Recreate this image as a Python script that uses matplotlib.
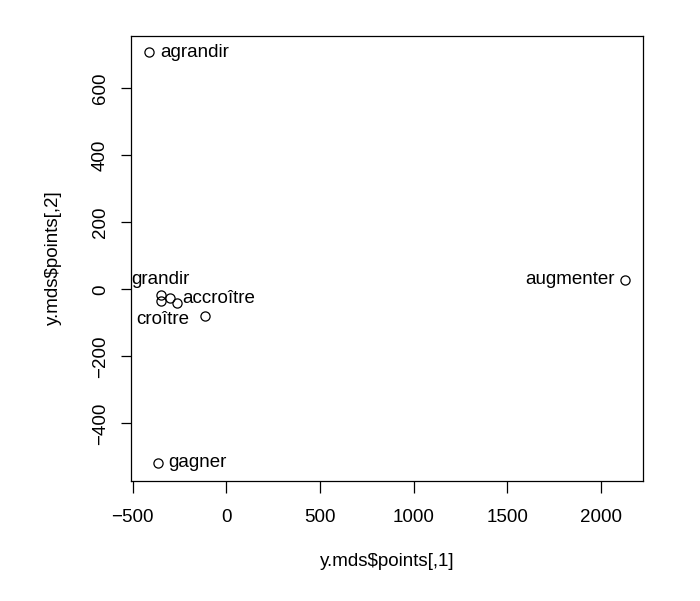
import matplotlib
matplotlib.use("Agg")
import matplotlib.pyplot as plt

plt.rcParams['font.family'] = ['Liberation Sans', 'DejaVu Sans']

x_vals = [-411, 2130, -365, -350, -350, -301, -261, -114]
y_vals = [707, 28, -518, -17, -35, -26, -41, -81]
labels = ["agrandir", "augmenter", "gagner", "grandir", "", "accroître", "", "croître"]
label_pos = ["right", "left", "right", "above", "", "right", "", "left"]

x_ticks = [-500, 0, 500, 1000, 1500, 2000]
y_ticks = [-400, -200, 0, 200, 400, 600]

W, H = 700, 601
fig = plt.figure(figsize=(W/100, H/100), dpi=100)
L, R, T, B = 130.5, 643.3, 35.7, 480.5
ax = fig.add_axes([L/W, 1-B/H, (R-L)/W, (B-T)/H])
ax.plot(x_vals, y_vals, 'o', mfc='none', mec='black', ms=6.6, mew=0.9)

fs = 13.5
for xv, yv, lab, pos in zip(x_vals, y_vals, labels, label_pos):
    if not lab:
        continue
    if pos == "right":
        off = 7.5 if lab != "accroître" else 8.5
        ax.annotate(lab, (xv, yv), xytext=(off, 0), textcoords='offset points',
                    ha='left', va='center', fontsize=fs)
    elif pos == "left":
        off = -7.5 if lab != "croître" else -11.0
        dy = 0 if lab != "croître" else -2.0
        ax.annotate(lab, (xv, yv), xytext=(off, dy), textcoords='offset points',
                    ha='right', va='center', fontsize=fs)
    elif pos == "above":
        ax.annotate(lab, (xv, yv), xytext=(0, 11.5), textcoords='offset points',
                    ha='center', va='center', fontsize=fs)

ax.set_xlim(-511.8, 2227.6)
ax.set_ylim(-570.7, 757)
ax.set_xticks(x_ticks)
ax.set_yticks(y_ticks)
ax.set_xticklabels([str(v).replace('-', '\u2212') for v in x_ticks], fontsize=fs)
ax.set_yticklabels([str(v).replace('-', '\u2212') for v in y_ticks], fontsize=fs,
                   rotation=90, va='center')
ax.tick_params(axis='x', direction='out', length=8.3, width=0.9, pad=12)
ax.tick_params(axis='y', direction='out', length=7.5, width=0.9, pad=8)
for s in ax.spines.values():
    s.set_linewidth(0.9)
ax.set_xlabel("y.mds$points[,1]", fontsize=fs)
ax.set_ylabel("y.mds$points[,2]", fontsize=fs)
ax.xaxis.set_label_coords(((L+R)/2)/W, 1-562/H, transform=fig.transFigure)
ax.yaxis.set_label_coords(53/W, 1-((T+B)/2)/H, transform=fig.transFigure)
ax.xaxis.label.set_va('center')
ax.yaxis.label.set_va('center')

fig.savefig("out.png", dpi=100)
